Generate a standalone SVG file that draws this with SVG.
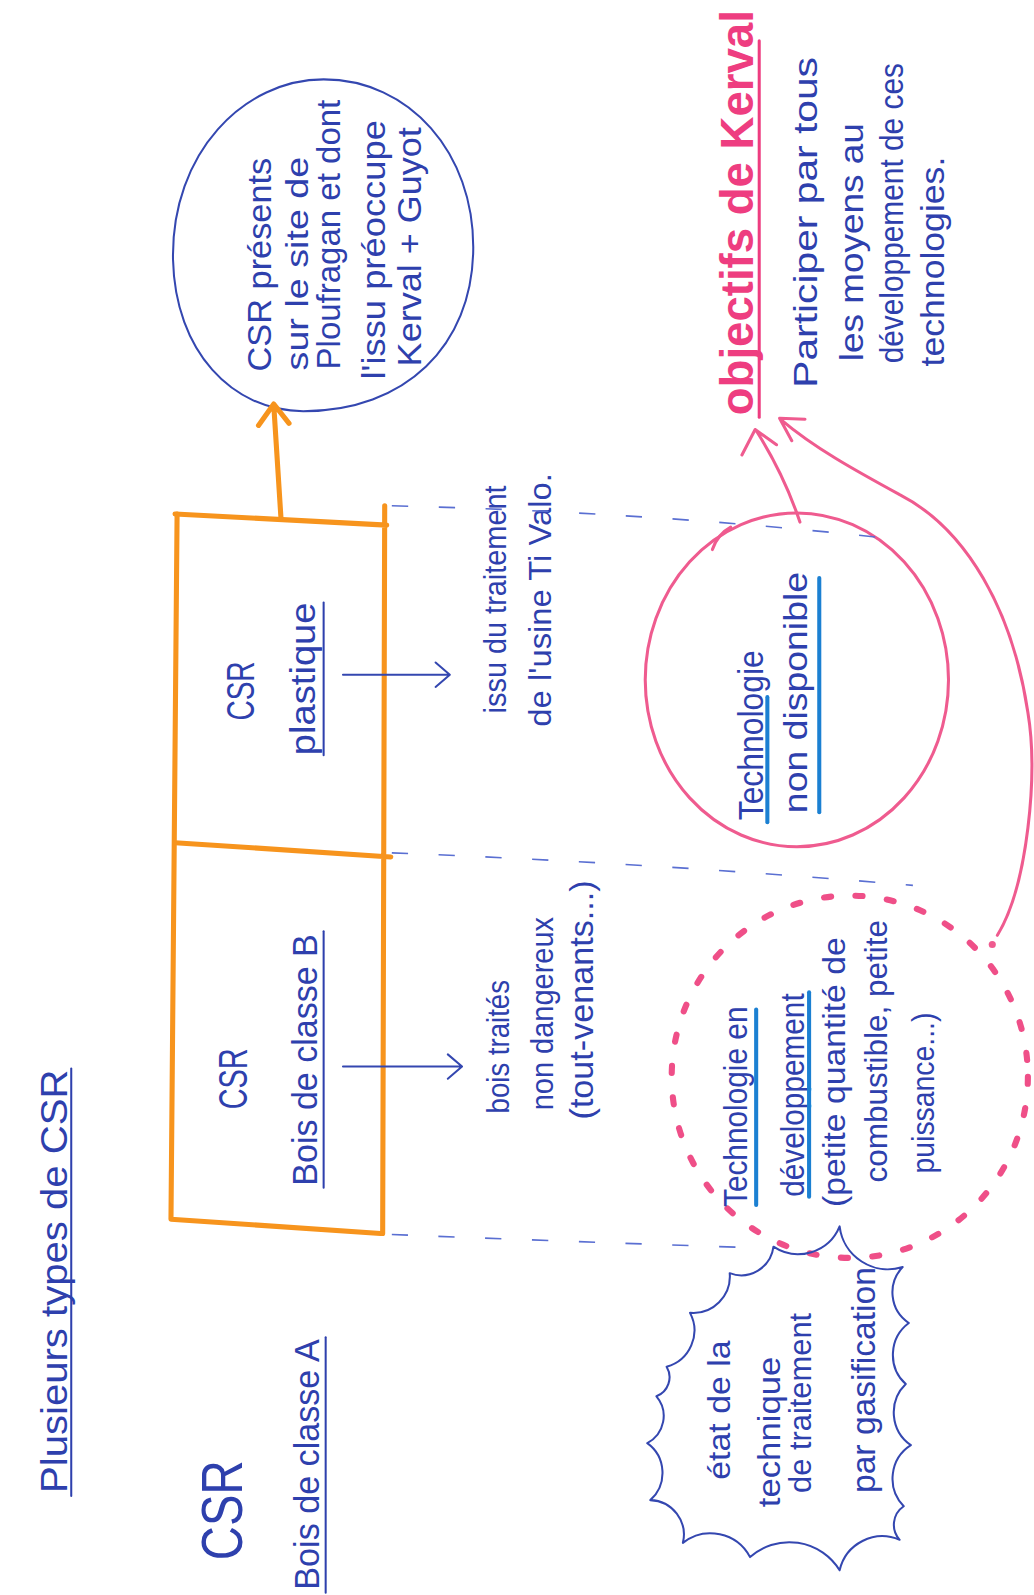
<svg xmlns="http://www.w3.org/2000/svg" width="1034" height="1595" viewBox="0 0 1034 1595">
<style>
.t{font-family:"Liberation Sans","DejaVu Sans",sans-serif;fill:#2e40ad}
.p{font-family:"Liberation Sans","DejaVu Sans",sans-serif;fill:#ee3d80;font-weight:bold}
.ul{stroke:#2e40ad;stroke-width:2;fill:none;stroke-linecap:round}
.bu{stroke:#1b80d2;stroke-width:4;fill:none;stroke-linecap:round}
.or{stroke:#f7941d;stroke-width:5;fill:none;stroke-linecap:round;stroke-linejoin:round}
.pk{stroke:#ef5b8f;stroke-width:3;fill:none;stroke-linecap:round;stroke-linejoin:round}
.bl{stroke:#3447b0;stroke-width:2;fill:none;stroke-linecap:round;stroke-linejoin:round}
.ds{stroke:#5a6fd2;stroke-width:1.6;fill:none;stroke-dasharray:16 30}
</style>
<rect width="1034" height="1595" fill="#ffffff"/>
<g transform="scale(1.01772)">
<g id="title">
<text class="t" font-size="36" textLength="416" lengthAdjust="spacingAndGlyphs" transform="translate(66,1467) rotate(-90)">Plusieurs types de CSR</text>
<line class="ul" x1="70" y1="1470" x2="70" y2="1050"/>
</g>
<g id="csr-bois-a">
<text class="t" font-size="56" textLength="98" lengthAdjust="spacingAndGlyphs" transform="translate(238,1533) rotate(-90)">CSR</text>
<text class="t" font-size="34" textLength="246" lengthAdjust="spacingAndGlyphs" transform="translate(313,1562) rotate(-90)">Bois de classe A</text>
<line class="ul" x1="320" y1="1565" x2="320" y2="1314"/>
</g>
<g id="csr-plastique">
<path class="or" d="M172,505 L380,516 M378,497 L376,1212 M172,828 L384,842"/>
<text class="t" font-size="38" textLength="58" lengthAdjust="spacingAndGlyphs" transform="translate(250,708) rotate(-90)">CSR</text>
<text class="t" font-size="34" textLength="150" lengthAdjust="spacingAndGlyphs" transform="translate(310,742) rotate(-90)">plastique</text>
<line class="ul" x1="318" y1="742" x2="318" y2="592"/>
</g>
<g id="csr-bois-b">
<path class="or" d="M374,1212 L168,1198 L174,505"/>
<text class="t" font-size="40" textLength="60" lengthAdjust="spacingAndGlyphs" transform="translate(243,1090) rotate(-90)">CSR</text>
<text class="t" font-size="34" textLength="247" lengthAdjust="spacingAndGlyphs" transform="translate(311,1165) rotate(-90)">Bois de classe B</text>
<line class="ul" x1="318" y1="1167" x2="318" y2="915"/>
</g>
<g id="note-plastique">
<text class="t" font-size="30" textLength="224" lengthAdjust="spacingAndGlyphs" transform="translate(497,701) rotate(-90)">issu du traitement</text>
<text class="t" font-size="30" textLength="249" lengthAdjust="spacingAndGlyphs" transform="translate(541,714) rotate(-90)">de l'usine Ti Valo.</text>
</g>
<g id="note-bois-b">
<text class="t" font-size="30" textLength="131" lengthAdjust="spacingAndGlyphs" transform="translate(500,1094) rotate(-90)">bois traités</text>
<text class="t" font-size="30" textLength="190" lengthAdjust="spacingAndGlyphs" transform="translate(543,1091) rotate(-90)">non dangereux</text>
<text class="t" font-size="32" textLength="235" lengthAdjust="spacingAndGlyphs" transform="translate(583,1100) rotate(-90)">(tout-venants...)</text>
</g>
<g id="csr-site">
<path class="bl" d="M170,255 C168,150 240,78 318,78 C402,78 466,150 465,245 C464,340 398,404 298,404 C228,404 172,345 170,255 Z"/>
<text class="t" font-size="32" textLength="210" lengthAdjust="spacingAndGlyphs" transform="translate(266,365) rotate(-90)">CSR présents</text>
<text class="t" font-size="30" textLength="210" lengthAdjust="spacingAndGlyphs" transform="translate(303,364) rotate(-90)">sur le site de</text>
<text class="t" font-size="32" textLength="265" lengthAdjust="spacingAndGlyphs" transform="translate(334,363) rotate(-90)">Ploufragan et dont</text>
<text class="t" font-size="32" textLength="255" lengthAdjust="spacingAndGlyphs" transform="translate(378,373) rotate(-90)">l'issu préoccupe</text>
<text class="t" font-size="32" textLength="235" lengthAdjust="spacingAndGlyphs" transform="translate(414,360) rotate(-90)">Kerval + Guyot</text>
</g>
<g id="tech-non-disponible">
<ellipse class="pk" cx="783" cy="668" rx="149" ry="164"/>
<path class="pk" d="M700,540 Q705,525 718,518"/>
<text class="t" font-size="34" textLength="167" lengthAdjust="spacingAndGlyphs" transform="translate(750,806) rotate(-90)">Technologie</text>
<line class="bu" x1="754" y1="808" x2="754" y2="685"/>
<text class="t" font-size="32" textLength="237" lengthAdjust="spacingAndGlyphs" transform="translate(793,799) rotate(-90)">non disponible</text>
<line class="bu" x1="805" y1="798" x2="805" y2="568"/>
</g>
<g id="tech-developpement">
<ellipse cx="835" cy="1058" rx="175" ry="178" fill="none" stroke="#ef4f88" stroke-width="6" stroke-linecap="round" stroke-dasharray="7 24"/>
<text class="t" font-size="32" textLength="197" lengthAdjust="spacingAndGlyphs" transform="translate(734,1186) rotate(-90)">Technologie en</text>
<line class="bu" x1="743" y1="1184" x2="743" y2="992"/>
<text class="t" font-size="32" textLength="200" lengthAdjust="spacingAndGlyphs" transform="translate(790,1176) rotate(-90)">développement</text>
<line class="bu" x1="795" y1="1176" x2="795" y2="975"/>
<text class="t" font-size="30" textLength="265" lengthAdjust="spacingAndGlyphs" transform="translate(830,1186) rotate(-90)">(petite quantité de</text>
<text class="t" font-size="30" textLength="258" lengthAdjust="spacingAndGlyphs" transform="translate(872,1162) rotate(-90)">combustible, petite</text>
<text class="t" font-size="30" textLength="158" lengthAdjust="spacingAndGlyphs" transform="translate(918,1153) rotate(-90)">puissance...)</text>
</g>
<g id="etat-technique">
<path class="bl" d="M671,1516 A34,34 0 0 0 639,1474 A36,36 0 0 0 636,1418 A30,30 0 0 0 645,1372 A20,20 0 0 0 655,1343 A37,37 0 0 0 678,1290 A36,36 0 0 0 717,1251 A32,32 0 0 0 760,1225 A44,44 0 0 0 825,1205 A48,48 0 0 0 887,1245 A36,36 0 0 0 893,1300 A39,39 0 0 0 890,1360 A39,39 0 0 0 895,1420 A39,39 0 0 0 888,1480 A22,22 0 0 0 884,1513 A43,43 0 0 0 825,1543 A58,58 0 0 0 737,1530 A44,44 0 0 0 671,1516 Z"/>
<text class="t" font-size="30" textLength="137" lengthAdjust="spacingAndGlyphs" transform="translate(717,1454) rotate(-90)">état de la</text>
<text class="t" font-size="30" textLength="148" lengthAdjust="spacingAndGlyphs" transform="translate(766,1481) rotate(-90)">technique</text>
<text class="t" font-size="30" textLength="177" lengthAdjust="spacingAndGlyphs" transform="translate(797,1467) rotate(-90)">de traitement</text>
<text class="t" font-size="32" textLength="222" lengthAdjust="spacingAndGlyphs" transform="translate(860,1467) rotate(-90)">par gasification</text>
</g>
<g id="objectifs">
<text class="p" font-size="46" textLength="398" lengthAdjust="spacingAndGlyphs" transform="translate(740,408) rotate(-90)">objectifs de Kerval</text>
<line x1="746" y1="410" x2="746" y2="40" stroke="#ee3d80" stroke-width="3" stroke-linecap="round"/>
<text class="t" font-size="32" textLength="325" lengthAdjust="spacingAndGlyphs" transform="translate(803,381) rotate(-90)">Participer par tous</text>
<text class="t" font-size="32" textLength="234" lengthAdjust="spacingAndGlyphs" transform="translate(848,355) rotate(-90)">les moyens au</text>
<text class="t" font-size="32" textLength="295" lengthAdjust="spacingAndGlyphs" transform="translate(887,357) rotate(-90)">développement de ces</text>
<text class="t" font-size="32" textLength="206" lengthAdjust="spacingAndGlyphs" transform="translate(928,360) rotate(-90)">technologies.</text>
</g>
<g id="connectors">
<path class="or" d="M276,508 L269,398 M254,418 L269,397 L284,416"/>
<path class="bl" stroke-width="1.6" d="M337,663 L440,663 M428,651 L442,663 L428,675"/>
<path class="bl" stroke-width="1.6" d="M337,1048 L452,1048 M440,1036 L454,1048 L440,1060"/>
<path class="ds" d="M385,497 Q640,503 882,530"/>
<path class="ds" d="M385,838 Q640,848 897,870"/>
<path class="ds" d="M385,1213 Q560,1220 740,1226"/>
<path class="pk" d="M786,513 C775,480 760,450 743,423 M729,447 L742,422 L763,437"/>
<path class="pk" d="M980,919 C1010,870 1020,760 1010,700 C995,600 950,520 884,486 C840,462 800,440 767,412 M791,412 L766,411 L778,433"/>
<circle cx="975" cy="928" r="3.5" fill="#ef5b8f"/>
</g>
</g>
</svg>
